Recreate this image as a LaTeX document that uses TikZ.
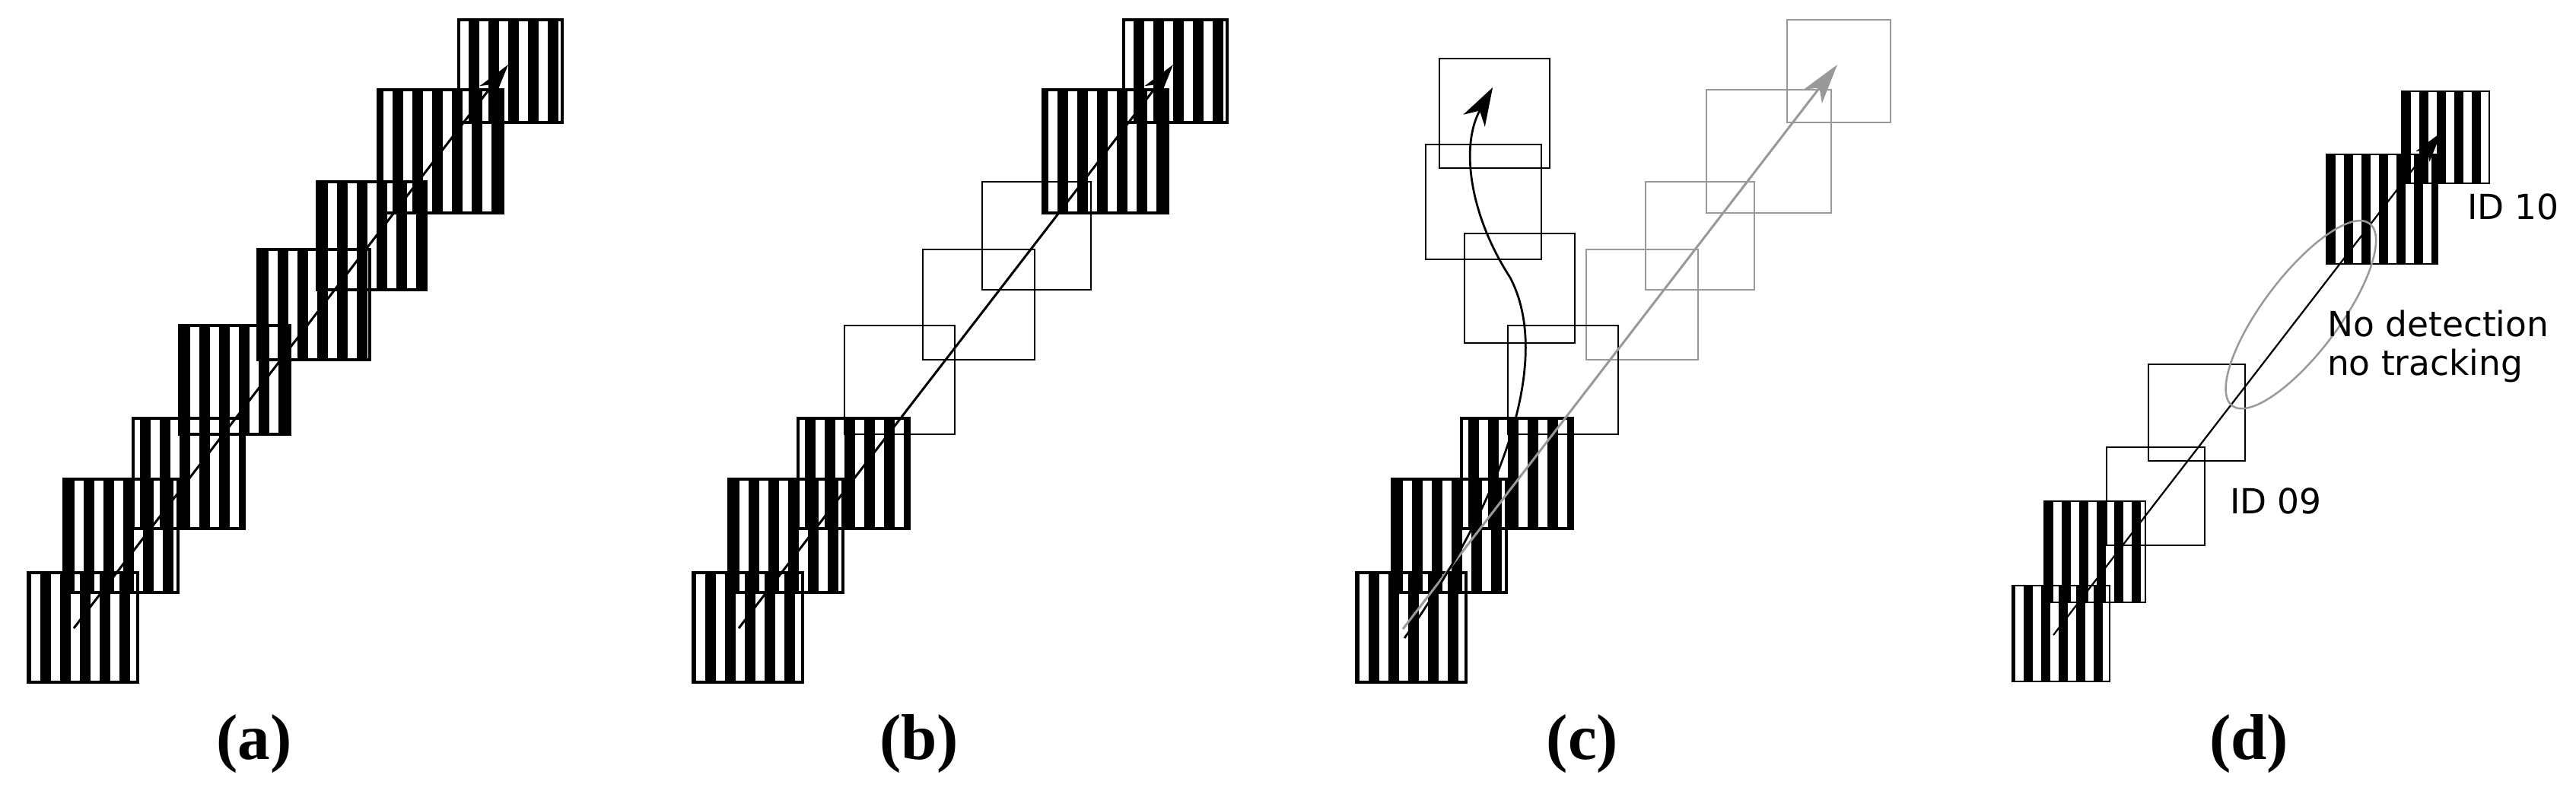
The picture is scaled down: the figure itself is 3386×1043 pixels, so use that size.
\documentclass[tikz,border=0pt]{standalone}
\usepackage{fontspec}
\setmainfont{Liberation Serif}
\newfontfamily\dejavu{DejaVu Sans}
\usetikzlibrary{arrows.meta}
\definecolor{ghost}{gray}{0.6}
\newcommand{\sbper}{26}
\newcommand{\sbblk}{13.5}
% striped box: x0, y0, x1, y1, phase (all in px)
\newcommand{\stripebox}[5]{%
  \begin{scope}
    \clip (#1,#2) rectangle (#3,#4);
    \foreach \k in {-1,...,7}{
      \fill[black] ({#1+#5+\k*\sbper},#2) rectangle ({#1+#5+\k*\sbper+\sbblk},#4);
    }
  \end{scope}
  \draw[boxline] (#1,#2) rectangle (#3,#4);
}
\begin{document}
\begin{tikzpicture}[x=0.2pt,y=-0.2pt,
  boxline/.style={line width=0.65pt},
  emptybox/.style={draw=black,line width=0.5pt},
  ghostbox/.style={draw=ghost,line width=0.5pt},
  arr/.style={line width=0.6pt,-{Stealth[length=9pt,width=5pt,inset=2.5pt]}},
  ghostarr/.style={draw=ghost,line width=0.6pt,-{Stealth[length=10.5pt,width=6pt,inset=2.8pt,fill=ghost]}},
  curvearr/.style={line width=0.55pt,-{Stealth[length=10pt,width=6.5pt,inset=3pt]}},
  thinarr/.style={line width=0.45pt,-{Stealth[length=8pt,width=4.5pt,inset=2pt]}},
  txt/.style={font=\dejavu\fontsize{9.1pt}{10pt}\selectfont,inner sep=0pt,anchor=base west},
  captxt/.style={font=\fontsize{17pt}{20pt}\selectfont\bfseries,inner sep=0pt,anchor=base}]
\useasboundingbox (0,0) rectangle (3386,1043);

% ---------- (a) ----------
\stripebox{37}{753}{181}{897}{16}
\stripebox{84}{630}{234}{779}{0}
\stripebox{175}{550}{321}{695}{9}
\stripebox{236}{428}{381}{571}{0}
\stripebox{339}{328}{486}{473}{0}
\stripebox{417}{239}{560}{381}{0}
\stripebox{497}{118}{661}{280}{19}
\stripebox{603}{26}{739}{161}{13}
\coordinate (a0) at (97,826);
\coordinate (a1) at (668,85);
\draw[arr] (a0) -- (a1);
\node[captxt] (la) at (334,998) {(a)};

% ---------- (b) ----------
\begin{scope}[xshift=174.8pt]
\stripebox{37}{753}{181}{897}{16}
\stripebox{84}{630}{234}{779}{0}
\stripebox{175}{550}{321}{695}{9}
\draw[emptybox] (236,428) rectangle (381,571);
\draw[emptybox] (339,328) rectangle (486,473);
\draw[emptybox] (417,239) rectangle (560,381);
\stripebox{497}{118}{661}{280}{19}
\stripebox{603}{26}{739}{161}{13}
\coordinate (b0) at (97,826);
\coordinate (b1) at (668,85);
\draw[arr] (b0) -- (b1);
\node[captxt] (lb) at (334,998) {(b)};
\end{scope}

% ---------- (c) ----------
\begin{scope}[xshift=349.2pt]
\stripebox{37}{753}{181}{897}{16}
\stripebox{84}{630}{234}{779}{0}
\stripebox{175}{550}{321}{695}{9}
\draw[ghostbox] (339,328) rectangle (486,473);
\draw[ghostbox] (417,239) rectangle (560,381);
\draw[ghostbox] (497,118) rectangle (661,280);
\draw[ghostbox] (603,26) rectangle (739,161);
\draw[emptybox] (236,428) rectangle (381,571);
\draw[emptybox] (179,307) rectangle (324,451);
\draw[emptybox] (128,190) rectangle (280,341);
\draw[emptybox] (146,77) rectangle (291,221);
\coordinate (c0) at (98,827);
\coordinate (c1) at (669,85);
\draw[ghostarr] (c0) -- (c1);
\coordinate (k0) at (100,839);
\coordinate (km) at (239,365);
\coordinate (k1) at (216,115);
\draw[curvearr] (k0) .. controls (234,650) and (294,470) .. (km)
                     .. controls (184,280) and (174,190) .. (k1);
\node[captxt] (lc) at (334,998) {(c)};
\end{scope}

% ---------- (d) ----------
\begin{scope}[boxline/.style={line width=0.45pt},emptybox/.style={draw=black,line width=0.4pt}]
\def\sbper{23}
\def\sbblk{12}
\stripebox{2645}{770}{2773}{896}{15}
\stripebox{2687}{659}{2820}{792}{0}
\draw[emptybox] (2769,588) rectangle (2898,717);
\draw[emptybox] (2824,479) rectangle (2951,606);
\stripebox{3058}{203}{3204}{347}{0}
\stripebox{3157}{120}{3272}{241}{0}
\coordinate (d0) at (2699,835);
\coordinate (d1) at (3209,174);
\draw[thinarr] (d0) -- (d1);
\coordinate (ell) at (3024,414);
\draw[ghost,line width=0.5pt,rotate around={53:(ell)}] (ell) ellipse [x radius=30pt, y radius=10pt];
\node[txt] (id10) at (3242,288) {ID 10};
\node[txt] (nod1) at (3058,442) {No detection};
\node[txt] (nod2) at (3058,493) {no tracking};
\node[txt] (id09) at (2930,675) {ID 09};
\node[captxt] (ld) at (2956,998) {(d)};
\end{scope}
\end{tikzpicture}
\end{document}
